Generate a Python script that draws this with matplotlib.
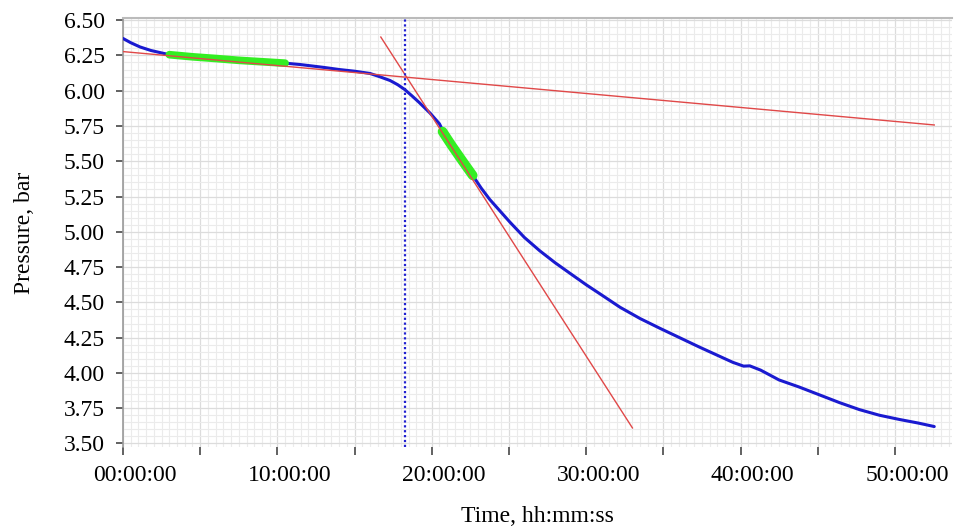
import matplotlib
matplotlib.use('Agg')
import matplotlib.pyplot as plt
import matplotlib.transforms as mtransforms
import numpy as np

plt.rcParams['font.family'] = ['Liberation Serif', 'DejaVu Serif']

# pressure record (time in minutes, pressure in bar)
t_meas = [0.0, 0.5, 1.1, 1.8, 2.4, 3.0, 4.5, 6.0, 7.5, 9.0, 10.5, 11.5, 13.0, 14.0,
          15.0, 16.0, 16.6, 17.3, 17.8, 18.25, 18.7, 19.2, 19.9, 20.5, 20.7,
          21.3, 22.0, 22.65, 23.2, 23.75, 24.4, 25.05, 26.0, 27.0, 28.0, 28.9,
          30.0, 30.9, 32.2, 33.5, 34.8, 36.05, 37.3, 38.6, 39.5, 40.2, 40.6,
          41.3, 42.5, 43.8, 45.1, 46.4, 47.7, 49.0, 50.3, 51.5, 52.55]
p_meas = [6.37, 6.34, 6.31, 6.285, 6.27, 6.255, 6.24, 6.228, 6.215, 6.205, 6.195,
          6.185, 6.165, 6.15, 6.138, 6.122, 6.10, 6.072, 6.042, 6.008, 5.965,
          5.915, 5.84, 5.765, 5.72, 5.61, 5.50, 5.40, 5.31, 5.23, 5.15, 5.07,
          4.96, 4.865, 4.78, 4.71, 4.625, 4.56, 4.465, 4.385, 4.315, 4.25, 4.185,
          4.12, 4.075, 4.048, 4.05, 4.02, 3.95, 3.90, 3.845, 3.79, 3.74, 3.70,
          3.67, 3.645, 3.62]

# fitted segments (highlighted)
fit1_t = [3.0, 4.5, 6.0, 7.5, 9.0, 10.5]
fit1_p = [6.255, 6.24, 6.228, 6.215, 6.205, 6.195]
fit2_t = [20.7, 21.3, 22.0, 22.65]
fit2_p = [5.71, 5.61, 5.50, 5.40]

# tangent lines
tan1_t = [0.0, 52.55]
tan1_p = [6.277, 5.757]
tan2_t = [16.7, 33.0]
tan2_p = [6.38, 3.61]

t_cross = 18.25

xtick_lab = ['00:00:00', '10:00:00', '20:00:00', '30:00:00', '40:00:00', '50:00:00']
ytick_pos = np.arange(3.5, 6.51, 0.25)

fig = plt.figure(figsize=(9.63, 5.29), dpi=100)
ax = fig.add_axes([123 / 963, 1 - 447 / 529, (952 - 123) / 963, (447 - 18) / 529])

ax.plot(t_meas, p_meas, color='#1a1ad0', lw=2.2, zorder=3, solid_capstyle='round')
ax.plot(fit1_t, fit1_p, color='#33ee22', lw=5.5, zorder=4, solid_capstyle='round')
ax.plot(fit2_t, fit2_p, color='#33ee22', lw=7, zorder=4, solid_capstyle='round')
ax.plot(tan1_t, tan1_p, color='#e04848', lw=1.0, zorder=5)
ax.plot(tan2_t, tan2_p, color='#e04848', lw=1.0, zorder=5)
ax.axvline(t_cross, color='#2020d0', lw=1.6, ls=(0, (1, 1.2)), zorder=6)

ax.set_xlim(0, 53.7)
ax.set_ylim(3.475, 6.515)

# grid
ax.set_xticks(np.arange(0, 54, 0.5), minor=True)
ax.set_yticks(np.arange(3.5, 6.52, 0.05), minor=True)
ax.grid(which='minor', color='#ebebeb', lw=0.8)
ax.grid(which='major', color='#dcdcdc', lw=0.9)
ax.set_axisbelow(True)

ax.set_xticks(np.arange(0, 51, 5))
ax.set_xticklabels([xtick_lab[i // 2] if i % 2 == 0 else '' for i in range(11)])
ax.set_yticks(ytick_pos)
ax.set_yticklabels(['%.2f' % v for v in ytick_pos])

ax.tick_params(axis='x', which='major', length=6, width=1.3, color='#555555',
               labelsize=17, pad=7)
ax.tick_params(axis='x', which='minor', length=0)
ax.tick_params(axis='y', which='major', length=5, width=1.3, color='#555555',
               labelsize=17, pad=8)
ax.tick_params(axis='y', which='minor', length=0)

for side in ['right', 'bottom']:
    ax.spines[side].set_visible(False)
ax.spines['left'].set_color('#999999')
ax.spines['left'].set_linewidth(1.2)
ax.spines['top'].set_color('#bbbbbb')
ax.spines['top'].set_linewidth(1.5)

# labels sit a little to the right of their ticks
off = mtransforms.ScaledTranslation(12 / 100, 0, fig.dpi_scale_trans)
for lab in ax.get_xticklabels():
    lab.set_transform(lab.get_transform() + off)

ax.set_xlabel('Time, hh:mm:ss', fontsize=17, labelpad=14)
ax.set_ylabel('Pressure, bar', fontsize=17, labelpad=21)

fig.savefig('out.png', dpi=100)
